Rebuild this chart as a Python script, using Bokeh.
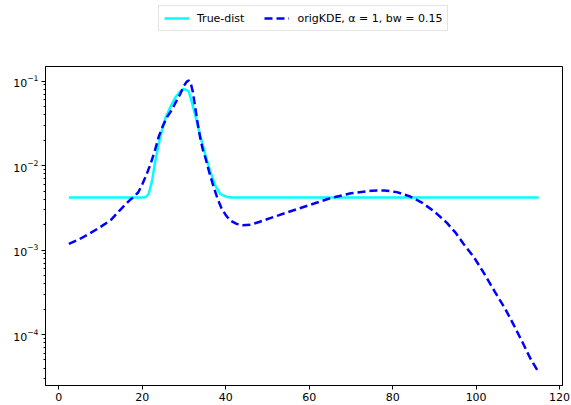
from bokeh.plotting import figure
from bokeh.layouts import column
from bokeh.models import (Range1d, Legend, LegendItem, LogTicker,
                          SingleIntervalTicker)
from bokeh.embed import file_html
from bokeh.resources import INLINE

# True density: flat floor with a single bump near x = 30
true_x = [2.4, 19.5, 20.5, 21.0, 21.5, 21.8, 22.3, 23.1, 23.9, 24.7, 25.5,
          26.7, 27.9, 29.1, 29.9, 31.1, 31.9, 32.7, 33.9, 35.1, 36.3, 37.5,
          38.7, 40.3, 41.5, 115.0]
true_y = [0.0042, 0.0042, 0.00422, 0.0043, 0.0046, 0.0052, 0.0065, 0.0112,
          0.0178, 0.026, 0.036, 0.049, 0.064, 0.076, 0.081, 0.076, 0.056,
          0.039, 0.0225, 0.0135, 0.0085, 0.0058, 0.0046, 0.00425, 0.0042,
          0.0042]

# Original KDE estimate (alpha = 1, bw = 0.15)
kde_x = [2.4, 5.0, 7.5, 10.0, 12.5, 15.0, 17.0, 18.0, 19.0, 20.0, 21.0,
         22.0, 23.0, 24.0, 25.0, 26.0, 27.0, 28.0, 29.0, 30.0, 30.6, 31.1,
         31.6, 32.1, 32.7, 33.3, 33.9, 34.5, 35.1, 36.0, 37.0, 38.0, 39.0,
         40.0, 41.0, 42.5, 44.0, 46.0, 48.0, 51.0, 55.0, 60.0, 65.0, 70.0,
         75.0, 78.0, 81.0, 84.0, 87.0, 90.0, 93.0, 95.0, 97.0, 99.5, 102.0,
         104.5, 107.0, 109.0, 111.0, 113.0, 115.0]
kde_y = [0.00118, 0.00135, 0.00158, 0.00188, 0.00228, 0.0031, 0.0039,
         0.0043, 0.0048, 0.0060, 0.0078, 0.0105, 0.0150, 0.0225, 0.030,
         0.038, 0.045, 0.056, 0.069, 0.088, 0.098, 0.102, 0.095, 0.075,
         0.048, 0.031, 0.021, 0.0155, 0.0125, 0.0085, 0.0058, 0.0041,
         0.0031, 0.0026, 0.00225, 0.00205, 0.00196, 0.00200, 0.00215,
         0.00242, 0.00282, 0.00340, 0.00410, 0.00470, 0.00505, 0.00508,
         0.00485, 0.00435, 0.00365, 0.00285, 0.00210, 0.00162, 0.00118,
         0.00082, 0.00052, 0.00032, 0.000200, 0.000130, 0.000083,
         0.000052, 0.0000355]

FONT = "DejaVu Sans"
TRUE_STYLE = dict(line_color="#00ffff", line_width=2.5)
KDE_STYLE = dict(line_color="#0000ff", line_width=2.5, line_dash="8 4")

LEGEND_H = 39

# ---- main plot ----
p = figure(width=571, height=405 - LEGEND_H, y_axis_type="log",
           x_range=Range1d(-3.2, 120.7), y_range=Range1d(2.49e-5, 0.149),
           output_backend="svg", toolbar_location=None,
           min_border_left=45, min_border_right=9,
           min_border_top=66 - LEGEND_H, min_border_bottom=20)

p.grid.visible = False
p.outline_line_color = "black"
p.outline_line_width = 1
p.background_fill_color = "white"
p.border_fill_color = "white"

p.line(true_x, true_y, **TRUE_STYLE)
p.line(kde_x, kde_y, **KDE_STYLE)

p.xaxis.ticker = SingleIntervalTicker(interval=20, num_minor_ticks=0)
p.yaxis.ticker = LogTicker(num_minor_ticks=10)
for ax in (p.xaxis[0], p.yaxis[0]):
    ax.axis_line_color = "black"
    ax.major_tick_line_color = "black"
    ax.minor_tick_line_color = "black"
    ax.major_tick_in = 0
    ax.major_tick_out = 4
    ax.minor_tick_in = 0
    ax.minor_tick_out = 2
    ax.major_label_text_color = "black"
    ax.major_label_text_font = FONT
    ax.major_label_text_font_size = "11px"
    ax.major_label_standoff = 3

# ---- legend strip above the plot ----
# the strip's own copies of the series sit outside its visible x range,
# so only their legend swatches are drawn
lg = figure(width=571, height=LEGEND_H, x_range=Range1d(-1000, -999),
            y_range=Range1d(0, 1), output_backend="svg",
            toolbar_location=None, x_axis_location=None,
            y_axis_location=None, min_border=0)
lg.grid.visible = False
lg.outline_line_color = None
lg.border_fill_color = "white"
lg_true = lg.line(true_x, true_y, **TRUE_STYLE)
lg_kde = lg.line(kde_x, kde_y, **KDE_STYLE)

# the strip's frame is aligned with the main frame (left edge at 45 px)
legend = Legend(items=[LegendItem(label="True-dist", renderers=[lg_true]),
                       LegendItem(label="origKDE, α = 1, bw = 0.15",
                                  renderers=[lg_kde])],
                orientation="horizontal", location=(113, 8),
                label_text_font=FONT, label_text_font_size="11px",
                label_text_color="black",
                glyph_width=25, glyph_height=14, label_height=14,
                label_standoff=8, spacing=20, padding=5, margin=0,
                border_line_color="#c8c8c8", border_line_width=1,
                background_fill_color="white")
lg.add_layout(legend, "center")

open("out.html", "w").write(file_html(column(lg, p, spacing=0), INLINE))
